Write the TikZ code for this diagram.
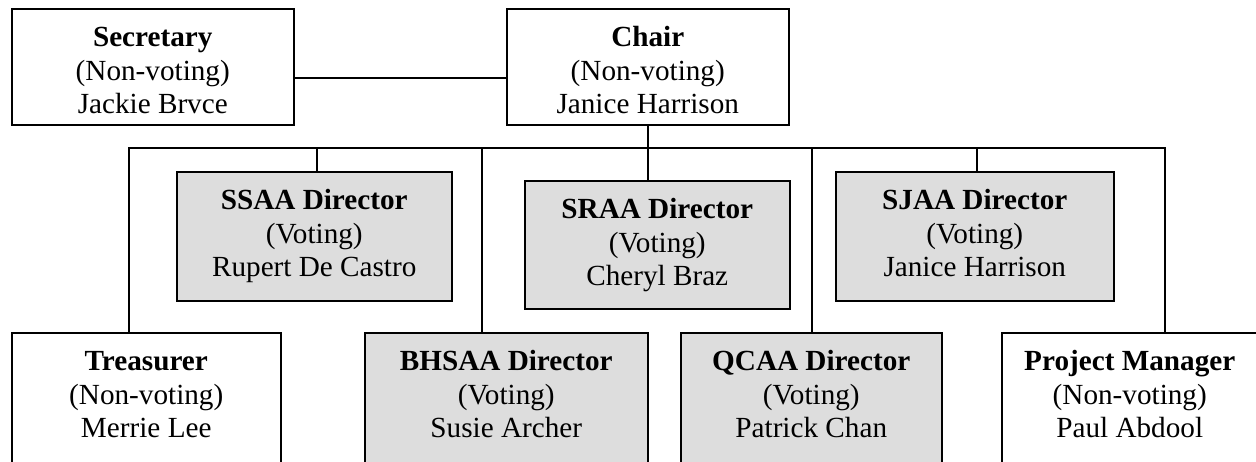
\documentclass[tikz,border=0pt]{standalone}
\usepackage{fontspec}
\setmainfont{Liberation Serif}
\usepackage{xcolor}
\definecolor{votegray}{RGB}{221,221,221}
\usetikzlibrary{calc}
\tikzset{
  card/.style={draw, line width=0.75pt, inner sep=0pt, anchor=north west,
    font=\fontsize{14.6}{16.7}\selectfont},
  votecard/.style={card, fill=votegray},
  link/.style={line width=0.75pt, line cap=rect}
}
% box text: width, height, title, kind, name
\newcommand{\orgcard}[5]{%
  \begin{minipage}[t][#2][t]{#1}\centering
    \rule{0pt}{19pt}\textbf{#3}\\(#4)\\#5
  \end{minipage}}

\begin{document}
\begin{tikzpicture}[x=0.5pt, y=-0.5pt]
  \useasboundingbox (0,0) rectangle (1256,461);
  % top row
  \node[card] (sec) at (11,8) {\orgcard{141pt}{58pt}{Secretary}{Non-voting}{Jackie Brvce}};
  \node[card] (chair) at (506,8) {\orgcard{141pt}{58pt}{Chair}{Non-voting}{Janice Harrison}};
  % directors
  \node[votecard] (ssaa) at (176,171) {\orgcard{137.5pt}{64.5pt}{SSAA Director}{Voting}{Rupert De Castro}};
  \node[votecard] (sraa) at (524,180) {\orgcard{132.5pt}{64pt}{SRAA Director}{Voting}{Cheryl Braz}};
  \node[votecard] (sjaa) at (835,171) {\orgcard{139pt}{64.5pt}{SJAA Director}{Voting}{Janice Harrison}};
  % bottom row
  \node[card] (treas) at (11,332) {\orgcard{134.5pt}{70pt}{Treasurer}{Non-voting}{Merrie Lee}};
  \node[votecard] (bhsaa) at (364,332) {\orgcard{141.5pt}{70pt}{BHSAA Director}{Voting}{Susie Archer}};
  \node[votecard] (qcaa) at (680,332) {\orgcard{130.5pt}{70pt}{QCAA Director}{Voting}{Patrick Chan}};
  \node[card] (pm) at (1001,332) {\orgcard{128pt}{70pt}{Project Manager}{Non-voting}{Paul Abdool}};

  % connectors
  \coordinate (mid) at (400,78);
  \draw[link] (sec.east |- mid) -- (chair.west |- mid);
  \draw[link] (chair.south) -- (chair.south |- sraa.north);
  \foreach \n/\x in {treas/129, ssaa/317, bhsaa/482, qcaa/812, sjaa/977, pm/1165} {
    \coordinate (\n-up) at (\x,148);
    \draw[link] (\n-up) -- (\n-up |- \n.north);
  }
  \draw[link] (treas-up) -- (pm-up);
\end{tikzpicture}
\end{document}
